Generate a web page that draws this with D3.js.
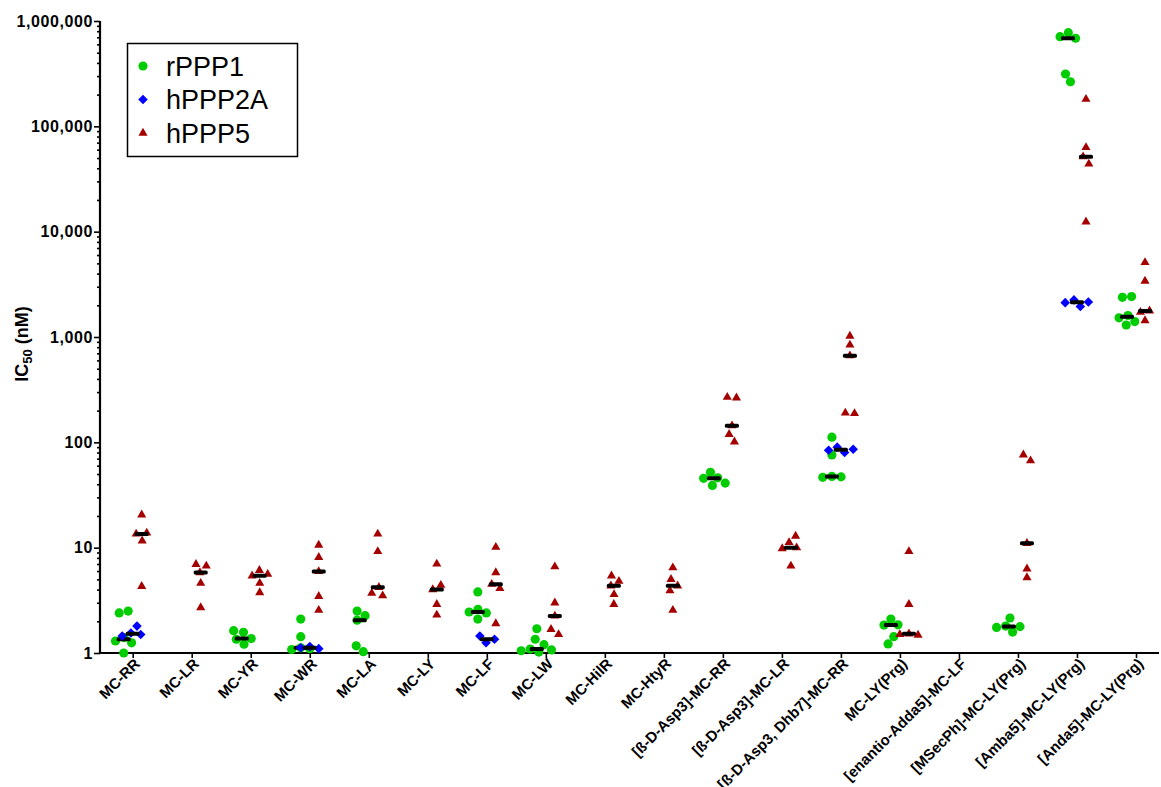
<!DOCTYPE html>
<meta charset="utf-8">

<head>
  <title>IC50 per phosphatase</title>
</head>

<style>
  body { margin: 0; background: #fff; }
  text { font-family: "Liberation Sans", Arial, sans-serif; }
</style>

<body>
  <div id="content">
    <svg width="1161" height="787"></svg>
  </div>

  <script src="https://cdnjs.cloudflare.com/ajax/libs/d3/7.8.5/d3.min.js"></script>

  <script>
    var categories = ['MC-RR', 'MC-LR', 'MC-YR', 'MC-WR', 'MC-LA', 'MC-LY', 'MC-LF', 'MC-LW',
      'MC-HilR', 'MC-HtyR', '[\u00df-D-Asp3]-MC-RR', '[\u00df-D-Asp3]-MC-LR',
      '[\u00df-D-Asp3, Dhb7]-MC-RR', 'MC-LY(Prg)', '[enantio-Adda5]-MC-LF',
      '[MSecPh]-MC-LY(Prg)', '[Amba5]-MC-LY(Prg)', '[Anda5]-MC-LY(Prg)'];

    var seriesNames = ['rPPP1', 'hPPP2A', 'hPPP5'];
    var seriesColors = ['#00cc00', '#0000ff', '#a50000'];

    // IC50 values in nM, one list per category
    var rPPP1 = [
      [2.4, 2.5, 1.4, 1.3, 1.25, 1.0],
      [],
      [1.63, 1.57, 1.37, 1.35, 1.21],
      [2.1, 1.43, 1.12, 1.1, 1.08],
      [2.5, 2.26, 2.05, 1.17, 1.03],
      [],
      [3.8, 2.6, 2.45, 2.4, 2.1],
      [1.7, 1.35, 1.2, 1.09, 1.07, 1.05, 1.02],
      [],
      [],
      [52, 46, 45.5, 41, 39],
      [],
      [112, 76, 47.5, 47, 46.5],
      [2.1, 1.85, 1.84, 1.43, 1.22],
      [],
      [2.15, 1.8, 1.78, 1.75, 1.58],
      [775000, 710000, 686000, 314000, 265000],
      [2420, 2380, 1600, 1520, 1400, 1300]
    ];

    var hPPP2A = [
      [1.8, 1.55, 1.5, 1.45],
      [], [],
      [1.15, 1.12, 1.1],
      [], [],
      [1.45, 1.35, 1.25],
      [], [], [], [], [],
      [90, 86, 84, 80],
      [], [], [],
      [2250, 2150, 2120, 1950],
      []
    ];

    var hPPP5 = [
      [20.5, 13.8, 13.5, 11.6, 4.3],
      [6.95, 6.7, 5.8, 4.6, 2.7],
      [6.1, 5.6, 5.4, 4.6, 3.75],
      [10.6, 8.1, 5.95, 3.45, 2.55],
      [13.5, 9.2, 4.2, 3.7, 3.5],
      [7.0, 4.4, 4.0, 2.9, 2.3],
      [10.1, 5.8, 4.5, 4.1, 1.9],
      [6.6, 3.0, 2.25, 1.68, 1.5],
      [5.4, 4.8, 4.35, 3.6, 2.9],
      [6.45, 5.0, 4.35, 3.9, 2.55],
      [268, 265, 144, 119, 101],
      [12.9, 11.2, 10.0, 9.8, 6.7],
      [1020, 840, 665, 190, 188],
      [9.2, 2.9, 1.52, 1.5, 1.48],
      [],
      [76, 67, 11, 6.3, 5.2],
      [181000, 63000, 51500, 44000, 12400],
      [5100, 3400, 1770, 1720, 1430]
    ];

    var yTicks = [1, 10, 100, 1000, 10000, 100000, 1000000];

    var series = [rPPP1, hPPP2A, hPPP5];

    var svg = d3.select('svg');

    var y = d3.scaleLog().domain([1, 1000000]).range([653, 21]);
    var x = d3.scalePoint().domain(categories).range([132.7, 1136]);
    var sub = d3.scalePoint().domain(seriesNames).range([-9, 9]);

    var shapes = [
      d3.symbol().type(d3.symbolCircle).size(66),
      d3.symbol().type(d3.symbolSquare).size(46),
      d3.symbol().type(d3.symbolTriangle).size(36)
    ];
    var rotations = [0, 45, 0];

    // axes
    var minor = [];
    yTicks.slice(0, -1).forEach(function(t) {
      for (var k = 2; k < 10; k++) minor.push(t * k);
    });

    var yMinor = svg.append('g')
      .attr('transform', 'translate(100,0)')
      .call(d3.axisLeft(y).tickValues(minor).tickSize(3).tickFormat(''));
    var yMajor = svg.append('g')
      .attr('transform', 'translate(100,0)')
      .call(d3.axisLeft(y).tickValues(yTicks).tickSize(6).tickFormat(d3.format(',')));
    yMinor.select('.domain').remove();
    yMajor.select('.domain').remove();
    svg.selectAll('.tick line').attr('stroke-width', 1.6);
    yMajor.selectAll('text')
      .attr('x', -7)
      .style('font-size', '16px')
      .style('letter-spacing', '0.6px')
      .style('font-weight', 'bold')
      .style('font-family', '"Liberation Sans", Arial, sans-serif');

    var xAxis = svg.append('g')
      .attr('transform', 'translate(0,653)')
      .call(d3.axisBottom(x).tickSize(5).tickSizeOuter(0));
    xAxis.select('.domain').remove();
    xAxis.selectAll('.tick line').attr('stroke-width', 1.6);
    xAxis.selectAll('text')
      .attr('text-anchor', 'end')
      .attr('transform', 'translate(4,8) rotate(-45)')
      .attr('y', 0)
      .attr('dy', '0.35em')
      .style('font-size', '15px')
      .style('font-weight', 'bold')
      .style('font-family', '"Liberation Sans", Arial, sans-serif');

    svg.append('line')
      .attr('x1', 100).attr('x2', 100)
      .attr('y1', y(1000000)).attr('y2', y(1) + 1)
      .attr('stroke', '#000').attr('stroke-width', 2.2);
    svg.append('line')
      .attr('x1', 99).attr('x2', 1159)
      .attr('y1', y(1)).attr('y2', y(1))
      .attr('stroke', '#000').attr('stroke-width', 2.2);

    var ylab = svg.append('text')
      .attr('transform', 'translate(28,344) rotate(-90)')
      .attr('text-anchor', 'middle')
      .style('font-size', '18px')
      .style('font-weight', 'bold');
    ylab.append('tspan').text('IC');
    ylab.append('tspan').attr('font-size', '13px').attr('dy', 4).text('50');
    ylab.append('tspan').attr('dy', -4).text(' (nM)');

    // points, spread sideways like a column scatter
    var plot = svg.append('g');
    var rand = d3.randomLcg(7);

    categories.forEach(function(cat, ci) {
      series.forEach(function(s, si) {
        var vals = s[ci];
        if (!vals.length) return;
        var cx = x(cat) + sub(seriesNames[si]);
        var nodes = vals.map(function(v) {
          return { value: v, x: cx, fy: y(v) };
        });
        var sim = d3.forceSimulation(nodes)
          .randomSource(rand)
          .force('x', d3.forceX(cx).strength(0.15))
          .force('collide', d3.forceCollide(4.6))
          .stop();
        for (var i = 0; i < 200; i++) sim.tick();

        plot.selectAll(null)
          .data(nodes)
          .enter()
          .append('path')
          .attr('d', shapes[si])
          .attr('fill', seriesColors[si])
          .attr('transform', function(d) {
            return 'translate(' + d.x + ',' + d.fy + ') rotate(' + rotations[si] + ')';
          });

        var med = d3.median(vals);
        plot.append('rect')
          .attr('x', cx - 7)
          .attr('y', y(med) - 2)
          .attr('width', 14)
          .attr('height', 4)
          .attr('rx', 1.5)
          .attr('fill', '#000');
      });
    });

    // legend
    var legend = svg.append('g');
    legend.append('rect')
      .attr('x', 127.5).attr('y', 43.5)
      .attr('width', 170).attr('height', 113)
      .attr('fill', '#fff').attr('stroke', '#000').attr('stroke-width', 1.5);
    var ly = d3.scalePoint().domain(seriesNames).range([66, 133]);
    seriesNames.forEach(function(name, si) {
      legend.append('path')
        .attr('d', shapes[si])
        .attr('fill', seriesColors[si])
        .attr('transform', 'translate(143,' + ly(name) + ') rotate(' + rotations[si] + ')');
      legend.append('text')
        .attr('x', 166)
        .attr('y', ly(name))
        .attr('dy', '0.36em')
        .style('font-size', '27px')
        .text(name);
    });
  </script>
</body>

</html>
